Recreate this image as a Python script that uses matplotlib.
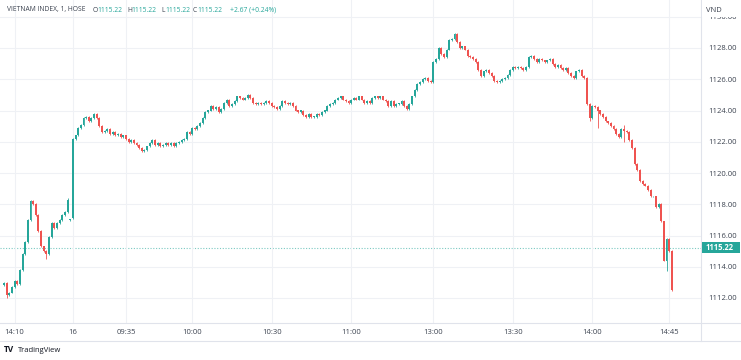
import matplotlib.pyplot as plt
import numpy as np
from matplotlib.patches import Rectangle
from matplotlib.lines import Line2D

plt.rcParams['font.family'] = ['Open Sans', 'DejaVu Sans']

# 1-minute closes, previous session 14:06 - 14:45
prev_close = [1112.95, 1112.2, 1112.35, 1112.7, 1113.1, 1112.9, 1113.8, 1114.8, 1115.6, 1117.0,
              1118.2, 1118.0, 1117.3, 1116.3, 1115.3, 1115.0, 1114.8, 1115.9, 1116.8, 1116.5,
              1116.8, 1117.0, 1117.3, 1117.5, 1118.3, 1117.0]
# day 16, 09:15 - 11:30
morning_close = [1122.2, 1122.4, 1122.9, 1123.1, 1123.5, 1123.6, 1123.3, 1123.5, 1123.8, 1123.5,
                 1123.0, 1122.6, 1122.7, 1122.8, 1122.5, 1122.6, 1122.4, 1122.5, 1122.3, 1122.4,
                 1122.2, 1122.0, 1122.1, 1121.9, 1121.8, 1121.6, 1121.4, 1121.5, 1121.7, 1121.9,
                 1122.1, 1121.8, 1121.9, 1121.7, 1121.8, 1121.9, 1121.8, 1121.9, 1121.7, 1121.9,
                 1122.0, 1122.1, 1122.2, 1122.6, 1122.5, 1122.9, 1122.8, 1123.0, 1123.2, 1123.5,
                 1123.9, 1124.0, 1124.3, 1124.1, 1124.2, 1123.9, 1124.1, 1124.5, 1124.7, 1124.3,
                 1124.4, 1124.6, 1124.9, 1124.8, 1124.7, 1124.8, 1125.0, 1124.8, 1124.5, 1124.4,
                 1124.5, 1124.4, 1124.5, 1124.6, 1124.5, 1124.3, 1124.2, 1124.1, 1124.3, 1124.6,
                 1124.5, 1124.4, 1124.5, 1124.3, 1124.0, 1123.9, 1124.0, 1123.7, 1123.6, 1123.8,
                 1123.6, 1123.6, 1123.8, 1123.7, 1123.9, 1124.0, 1124.3, 1124.4, 1124.5, 1124.7,
                 1124.8, 1124.9, 1124.7, 1124.6, 1124.5, 1124.7, 1124.8, 1124.7, 1124.9, 1124.7,
                 1124.5, 1124.6, 1124.5, 1124.8, 1124.9, 1124.8, 1124.9, 1124.7, 1124.6, 1124.3,
                 1124.6, 1124.3, 1124.4, 1124.4, 1124.6, 1124.3, 1124.1, 1124.4, 1124.9, 1125.3,
                 1125.7, 1125.8, 1126.0, 1126.1, 1125.9, 1125.8]
# day 16, 13:00 - close
afternoon_close = [1127.1, 1127.3, 1128.0, 1127.6, 1127.4, 1127.9, 1128.5, 1128.6, 1128.9, 1128.4,
                   1128.0, 1128.1, 1127.9, 1127.5, 1127.4, 1127.3, 1127.1, 1126.6, 1126.2, 1126.5,
                   1126.6, 1126.4, 1126.2, 1125.9, 1125.8, 1125.9, 1126.0, 1126.1, 1126.3, 1126.6,
                   1126.8, 1126.7, 1126.8, 1126.7, 1126.6, 1126.8, 1127.4, 1127.5, 1127.3, 1127.1,
                   1127.3, 1127.2, 1127.1, 1127.2, 1127.3, 1127.0, 1126.8, 1126.9, 1126.7, 1126.6,
                   1126.7, 1126.4, 1126.2, 1126.1, 1126.5, 1126.6, 1126.2, 1126.1, 1124.4, 1123.5,
                   1124.3, 1124.2, 1124.0, 1123.8, 1123.6, 1123.3, 1123.2, 1123.0, 1122.8, 1122.5,
                   1122.3, 1122.8, 1122.7, 1122.6, 1122.1, 1121.6, 1120.6, 1120.2, 1119.5, 1119.3,
                   1119.2, 1118.9, 1118.5, 1118.5, 1117.8, 1118.0, 1116.9, 1114.4, 1115.8, 1115.0,
                   1112.5]

# opens that don't follow the previous close (session gaps)
open_fix = {25: 1117.0, 26: 1117.1}
# visible long wicks
wick_low = {1: 1112.0, 16: 1114.5, 221: 1123.3, 224: 1122.9, 234: 1122.0, 250: 1113.7}
wick_high = {24: 1118.4, 234: 1123.1}

tick_pos = [4, 26, 46, 71, 101, 131, 162, 192, 222, 251]
tick_lab = ['14:10', '16', '09:35', '10:00', '10:30', '11:00', '13:00', '13:30', '14:00', '14:45']
price_ticks = [1112, 1114, 1116, 1118, 1120, 1122, 1124, 1126, 1128, 1130]
last_price = 1115.22

UP = '#26a69a'
DOWN = '#ef5350'
GRID = '#eff1f5'
LINE = '#e0e3eb'
TXT = '#3c4350'

closes = np.array(prev_close + morning_close + afternoon_close)
opens = np.r_[closes[0] - 0.1, closes[:-1]]
for k, v in open_fix.items():
    opens[k] = v
highs = np.maximum(opens, closes) + 0.06
lows = np.minimum(opens, closes) - 0.06
for k, v in wick_low.items():
    lows[k] = v
for k, v in wick_high.items():
    highs[k] = v
idx = np.arange(len(closes))
up = closes >= opens
colors = np.where(up, UP, DOWN)

W, H = 741, 360
fig = plt.figure(figsize=(W / 100, H / 100), dpi=100)


def fx(x):
    return x / W


def fy(y):
    return 1 - y / H


ax = fig.add_axes([0, fy(323), fx(701), 323 / H])
ax.set_xlim((0 - 4) / 2.65, (701 - 4) / 2.65)
ax.set_ylim(1128 - (323 - 48) / 15.625, 1128 + 48 / 15.625)

ax.vlines(idx, lows, highs, colors=colors, lw=0.6, zorder=2)
body = np.maximum(np.abs(closes - opens), 0.05)
ax.bar(idx, body, bottom=np.minimum(opens, closes), width=0.72, color=colors, lw=0, zorder=3)

ax.axhline(last_price, color=UP, lw=0.8, ls=(0, (1, 1.5)), alpha=0.6, zorder=1)

ax.set_xticks(tick_pos, tick_lab)
ax.set_yticks(price_ticks, ['%.2f' % p for p in price_ticks])
ax.yaxis.tick_right()
ax.tick_params(axis='both', length=0, labelsize=5.5, labelcolor=TXT)
ax.tick_params(axis='y', pad=5)
ax.tick_params(axis='x', pad=4)
ax.grid(True, color=GRID, lw=0.8, zorder=0)
for s in ax.spines.values():
    s.set_visible(False)

# frame lines of the price / time scales
fig.add_artist(Line2D([fx(701), fx(701)], [fy(0), fy(341)], color=LINE, lw=0.8))
fig.add_artist(Line2D([0, 1], [fy(323), fy(323)], color=LINE, lw=0.8))
fig.add_artist(Line2D([0, 1], [fy(341), fy(341)], color=LINE, lw=0.8))

# header
hy = fy(10)
hs = 4.9
fig.text(fx(7), hy, 'VIETNAM INDEX, 1, HOSE', fontsize=hs, color=TXT, va='center')
for x0, lab in [(93, 'O'), (127, 'H'), (161, 'L'), (193, 'C')]:
    fig.text(fx(x0), hy, lab, fontsize=hs, color=TXT, va='center')
    fig.text(fx(x0 + 4.5), hy, '1115.22', fontsize=hs, color=UP, va='center')
fig.text(fx(230), hy, '+2.67 (+0.24%)', fontsize=hs, color=UP, va='center')

# VND unit over the price scale, half hiding the top label
fig.add_artist(Rectangle((fx(702), fy(16.5)), fx(38), 16.5 / H, fc='white', ec='none', zorder=5))
fig.text(fx(706), fy(10), 'VND', fontsize=5.5, color=TXT, va='center', zorder=6)

# last price tag
yp = 48 + (1128 - last_price) * 15.625
fig.add_artist(Rectangle((fx(702), fy(yp + 5.5)), fx(38), 11 / H, fc=UP, ec='none', zorder=5))
fig.text(fx(706), fy(yp), '%.2f' % last_price, fontsize=5.5, color='white', va='center',
         fontweight='bold', zorder=6)

# logo
fig.text(fx(4), fy(350), 'TV', fontsize=6, color='#131722', va='center', fontweight='bold')
fig.text(fx(18), fy(350), 'TradingView', fontsize=5.5, color='#131722', va='center')

fig.savefig('out.png', dpi=100)
